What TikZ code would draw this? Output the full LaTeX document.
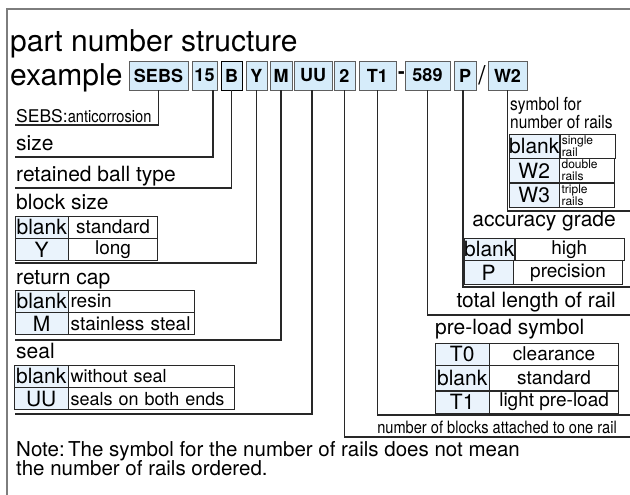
\documentclass[tikz,border=0pt]{standalone}
\usepackage{fontspec}
\setmainfont{TeX Gyre Heros}
\newfontfamily\narrowfont[FakeStretch=0.86]{TeX Gyre Heros}

\definecolor{hdrblue}{RGB}{214,236,250}
\definecolor{keyblue}{RGB}{234,243,252}
\definecolor{framegray}{RGB}{125,125,125}
\definecolor{inkgray}{RGB}{40,40,40}

\tikzset{
  hdr/.style={draw=inkgray!75, fill=hdrblue, minimum height=29pt, inner sep=0pt,
    font=\fontsize{18}{18}\selectfont\bfseries},
  lbl/.style={inner sep=0pt, font=\fontsize{21}{21}\selectfont},
  kcell/.style={draw=inkgray, fill=keyblue, anchor=north west, inner sep=0pt,
    minimum height=22pt, font=\fontsize{21}{21}\selectfont},
  vcell/.style={draw=inkgray, anchor=north west, inner sep=0pt,
    minimum height=22pt, font=\fontsize{19}{19}\selectfont},
  lcell/.style={vcell, align=left, inner xsep=2pt},
  lead/.style={draw=inkgray, line width=1.1pt},
}

\begin{document}
\begin{tikzpicture}[x=1pt, y=-1pt]
\useasboundingbox (0,0) rectangle (630,495);

% frame
\draw[framegray, line width=1.5pt] (7,495) -- (7,9) -- (630,9);

% title and example
\node[lbl, anchor=base west, font=\fontsize{30}{30}\selectfont] (title) at (10,52) {part number structure};
\node[lbl, anchor=base west, font=\fontsize{30}{30}\selectfont] (example) at (10,86) {example};

\node[hdr, minimum width=59pt] (sebs) at (158.5,75.5) {SEBS};
\node[hdr, minimum width=25pt] (size) at (204.5,75.5) {15};
\node[hdr, minimum width=21pt, draw=black] (ball) at (231.5,75.5) {B};
\node[hdr, minimum width=21pt] (blk) at (256.5,75.5) {Y};
\node[hdr, minimum width=22pt] (cap) at (281,75.5) {M};
\node[hdr, minimum width=38pt] (seal) at (313,75.5) {UU};
\node[hdr, minimum width=21pt] (nblk) at (344.5,75.5) {2};
\node[hdr, minimum width=37pt] (pre) at (377.5,75.5) {T1};
\node[lbl, font=\fontsize{20}{20}\selectfont\bfseries] (dash) at (401.5,75.5) {-};
\node[hdr, minimum width=45pt] (len) at (427.5,75.5) {589};
\node[hdr, minimum width=22pt] (acc) at (465,75.5) {P};
\node[lbl, font=\fontsize{26}{26}\selectfont] (slash) at (482,75.5) {/};
\node[hdr, minimum width=39pt] (rails) at (507.5,75.5) {W2};

% leader ends
\coordinate (sebsend) at (15,125);
\coordinate (sizeend) at (15,157);
\coordinate (ballend) at (15,188);
\coordinate (blkend) at (15,263);
\coordinate (capend) at (15,340);
\coordinate (sealend) at (15,414);
\coordinate (railsend) at (630,211);
\coordinate (accend) at (630,287);
\coordinate (lenend) at (630,315);
\coordinate (preend) at (630,415);
\coordinate (nblkend) at (630,437);

\draw[lead] (sebs.south) |- (sebsend);
\draw[lead] ([xshift=8.5pt]size.south) |- (sizeend);
\draw[lead] (ball.south) |- (ballend);
\draw[lead] (blk.south) |- (blkend);
\draw[lead] (cap.south) |- (capend);
\draw[lead] ([xshift=-1pt]seal.south) |- (sealend);
\draw[lead] (nblk.south) |- (nblkend);
\draw[lead] (pre.south) |- (preend);
\draw[lead] (len.south) |- (lenend);
\draw[lead] ([xshift=-2pt]acc.south) |- (accend);
\draw[lead] (rails.south) |- (railsend);

% left labels
\node[lbl, anchor=base west, font=\fontsize{17.5}{17.5}\selectfont] (sebslbl) at (16,122)
  {SEBS:{\narrowfont\fontsize{17}{17}\selectfont anticorrosion}};
\node[lbl, anchor=base west] (sizelbl) at (16,150) {size};
\node[lbl, anchor=base west] (balllbl) at (16,181) {retained ball type};
\node[lbl, anchor=base west] (blklbl) at (16,209) {block size};
\node[lbl, anchor=base west] (caplbl) at (16,284) {return cap};
\node[lbl, anchor=base west] (seallbl) at (16,358) {seal};

% block size table
\node[kcell, minimum width=53pt] (bsk1) at (15,216) {blank};
\node[vcell, minimum width=89pt] (bsv1) at (bsk1.north east) {standard};
\node[kcell, minimum width=53pt] (bsk2) at (bsk1.south west) {Y};
\node[vcell, minimum width=89pt] (bsv2) at (bsk2.north east) {long};

% return cap table
\node[kcell, minimum width=53pt] (rck1) at (15,290) {blank};
\node[lcell, text width=122pt] (rcv1) at (rck1.north east) {resin};
\node[kcell, minimum width=53pt] (rck2) at (rck1.south west) {M};
\node[lcell, text width=122pt] (rcv2) at (rck2.north east) {stainless steal};

% seal table
\node[kcell, minimum width=54pt] (slk1) at (14,365) {blank};
\node[lcell, text width=162pt, font=\fontsize{18}{18}\selectfont] (slv1) at (slk1.north east) {without seal};
\node[kcell, minimum width=54pt] (slk2) at (slk1.south west) {UU};
\node[lcell, text width=162pt, font=\fontsize{18}{18}\selectfont] (slv2) at (slk2.north east) {seals on both ends};

% number of rails
\node[lbl, anchor=north west, align=left, font=\narrowfont\fontsize{18}{16}\selectfont] (railslbl) at (510,97)
  {symbol for\\number of rails};
\tikzset{tiny/.style={lcell, text width=51pt, minimum height=24pt,
  font=\fontsize{12}{12}\selectfont}}
\node[kcell, minimum width=50pt, minimum height=24pt] (nrk1) at (509,134) {blank};
\node[tiny] (nrv1) at (nrk1.north east) {single\\rail};
\node[kcell, minimum width=50pt, minimum height=24pt] (nrk2) at (nrk1.south west) {W2};
\node[tiny] (nrv2) at (nrk2.north east) {double\\rails};
\node[kcell, minimum width=50pt, minimum height=24pt] (nrk3) at (nrk2.south west) {W3};
\node[tiny] (nrv3) at (nrk3.north east) {triple\\rails};

% accuracy grade
\node[lbl, anchor=base east] (acclbl) at (616,226) {accuracy grade};
\node[kcell, minimum width=49pt] (ack1) at (464,238) {blank};
\node[vcell, minimum width=109pt] (acv1) at (ack1.north east) {high};
\node[kcell, minimum width=49pt, minimum height=24pt] (ack2) at (ack1.south west) {P};
\node[vcell, minimum width=109pt, minimum height=24pt] (acv2) at (ack2.north east) {precision};

% total length
\node[lbl, anchor=base east] (lenlbl) at (616,307) {total length of rail};

% pre-load
\node[lbl, anchor=base west] (prelbl) at (435,334) {pre-load symbol};
\node[kcell, minimum width=54pt] (plk1) at (435,343) {T0};
\node[vcell, minimum width=129pt] (plv1) at (plk1.north east) {clearance};
\node[kcell, minimum width=54pt, minimum height=25pt] (plk2) at (plk1.south west) {blank};
\node[vcell, minimum width=129pt, minimum height=25pt] (plv2) at (plk2.north east) {standard};
\node[kcell, minimum width=54pt] (plk3) at (plk2.south west) {T1};
\node[vcell, minimum width=129pt] (plv3) at (plk3.north east) {light pre-load};

% number of blocks
\node[lbl, anchor=base east, font=\narrowfont\fontsize{17}{17}\selectfont] (nblklbl) at (617,433)
  {number of blocks attached to one rail};

% note
\node[lbl, anchor=base west, font=\fontsize{20.5}{20.5}\selectfont] (note1) at (16,456)
  {Note:\,The symbol for the number of rails does not mean};
\node[lbl, anchor=base west, font=\fontsize{20.5}{20.5}\selectfont] (note2) at (16,475)
  {the number of rails ordered.};
\end{tikzpicture}
\end{document}
